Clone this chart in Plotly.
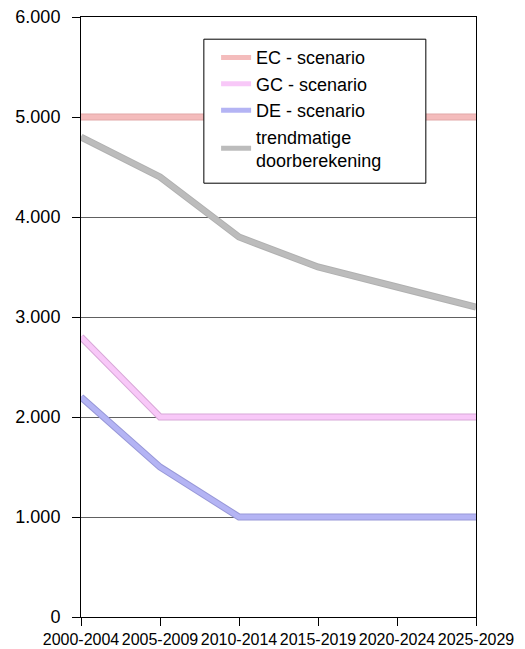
"""
Scenario chart: EC / GC / DE scenario vs trend calculation, 2000-2029
"""
import plotly.graph_objects as go

# Data
periods = ['2000-2004', '2005-2009', '2010-2014', '2015-2019', '2020-2024', '2025-2029']
ec_scenario = [5000, 5000, 5000, 5000, 5000, 5000]
gc_scenario = [2800, 2000, 2000, 2000, 2000, 2000]
de_scenario = [2200, 1500, 1000, 1000, 1000, 1000]
trend = [4800, 4400, 3800, 3500, 3300, 3100]

y_ticks = [0, 1000, 2000, 3000, 4000, 5000, 6000]
y_tick_labels = ['0', '1.000', '2.000', '3.000', '4.000', '5.000', '6.000']

series = [
    ('EC - scenario', ec_scenario, '#f4bcbc', '#e2a8a8'),
    ('GC - scenario', gc_scenario, '#f8c8f8', '#d8a8d8'),
    ('DE - scenario', de_scenario, '#b4b4f4', '#9898d8'),
    ('trendmatige<br>doorberekening', trend, '#bcbcbc', '#b0b0b0'),
]

x_idx = list(range(len(periods)))

fig = go.Figure()

for name, values, color, edge in series:
    # darker edge underneath, to mimic the outlined Excel lines
    fig.add_trace(go.Scatter(
        x=x_idx, y=values, mode='lines',
        line=dict(color=edge, width=7),
        showlegend=False, hoverinfo='skip'
    ))
    fig.add_trace(go.Scatter(
        x=x_idx, y=values, mode='lines', name=name,
        line=dict(color=color, width=5)
    ))

# legend frame drawn as a shape so it can be wider than the legend itself
fig.add_shape(
    type='rect', xref='paper', yref='paper',
    x0=0.311, x1=0.873, y0=0.723, y1=0.963,
    fillcolor='white', line=dict(color='black', width=1),
    layer='above',
)

fig.update_layout(
    width=525, height=649,
    margin=dict(l=73, r=57, t=9, b=40),
    paper_bgcolor='white',
    plot_bgcolor='white',
    font=dict(family='Liberation Sans, Arial, sans-serif', size=18, color='black'),
    showlegend=True,
    legend=dict(
        x=0.342, y=0.963, xanchor='left', yanchor='top',
        bgcolor='rgba(0,0,0,0)', borderwidth=0,
        font=dict(size=18),
        itemwidth=30,
        tracegroupgap=4,
    ),
)

fig.update_xaxes(
    range=[0, len(periods) - 1],
    tickmode='array', tickvals=x_idx, ticktext=periods,
    tickangle=0, tickfont=dict(size=16),
    ticks='outside', ticklen=8, tickcolor='black',
    ticklabeloverflow='allow',
    showline=True, linecolor='black', linewidth=1, mirror=True,
    showgrid=False, zeroline=False, automargin=False,
)
fig.update_yaxes(
    range=[0, 6000],
    tickmode='array', tickvals=y_ticks, ticktext=y_tick_labels,
    tickfont=dict(size=18),
    ticks='outside', ticklen=8, tickcolor='black',
    ticklabelstandoff=8, ticklabeloverflow='allow',
    showline=True, linecolor='black', linewidth=1, mirror=True,
    showgrid=True, gridcolor='#606060', gridwidth=1,
    zeroline=False, automargin=False,
)

fig.write_html("out.html")
